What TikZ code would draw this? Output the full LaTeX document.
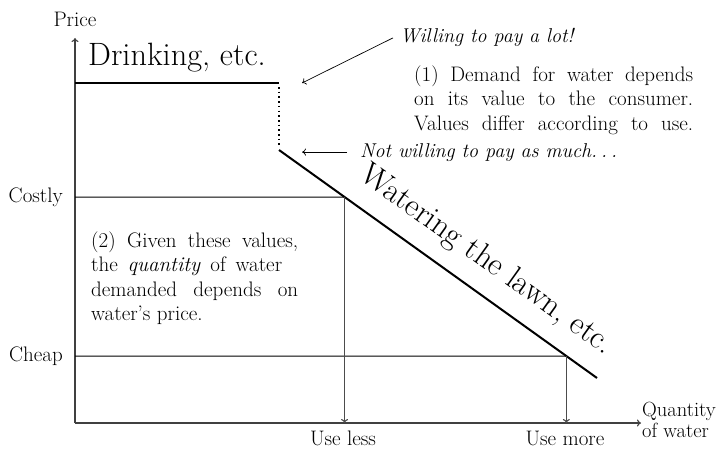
\documentclass[tikz,border=0pt]{standalone}
\usepackage{fontspec}
\usetikzlibrary{calc,arrows.meta}
\tikzset{
  tip/.style={-{To[length=4pt,width=7pt]}},
  axisline/.style={line width=1.1pt, draw=black!75, tip},
  demand/.style={line width=2pt, draw=black},
  dotline/.style={line width=1.8pt, draw=black, dash pattern=on 1.6pt off 3.1pt},
  level/.style={line width=1pt, draw=black},
  drop/.style={line width=1.1pt, draw=black!70, tip},
  pointer/.style={line width=0.7pt, draw=black, tip},
  txt/.style={inner sep=0pt, font=\fontsize{21}{24.5}\selectfont},
  itxt/.style={inner sep=0pt, font=\fontsize{20}{24.5}\selectfont\itshape},
  big/.style={inner sep=0pt, font=\fontsize{32.3}{34}\selectfont},
  para/.style={txt, align=left},
}
\begin{document}
\begin{tikzpicture}[x=1pt,y=-1pt]
\useasboundingbox (0,0) rectangle (719,452);
% axes
\coordinate (O) at (75,423);
\coordinate (ytop) at (75,38);
\coordinate (xend) at (641,423);
\draw[axisline] (O) -- (ytop);
\draw[axisline] (O) -- (xend);
% demand curve
\coordinate (d0) at (75,83);
\coordinate (d1) at (279,83);
\coordinate (d2) at (279,150);
\coordinate (d3) at (597,378);
\draw[demand] (d0) -- (d1);
\draw[dotline] ($(d1)+(0,4)$) -- ($(d2)+(0,-3)$);
\draw[demand] (d2) -- (d3);
% price levels
\coordinate (c1) at (75,197);
\coordinate (e1) at (75,356);
\coordinate (c2) at (intersection of d2--d3 and c1--{(600,197)});
\coordinate (e2) at (intersection of d2--d3 and e1--{(600,356)});
\draw[level] (c1) -- (c2);
\draw[level] (e1) -- (e2);
\draw[drop] (c2) -- (c2 |- O);
\draw[drop] (e2) -- (e2 |- O);
% labels
\node[txt, anchor=base] (price) at (75,27) {Price};
\node[txt, anchor=base east] (costly) at (63,202) {Costly};
\node[txt, anchor=base east] (cheap) at (63,361) {Cheap};
\node[txt, anchor=base] (less) at (343,445) {Use less};
\node[txt, anchor=base] (more) at (565,445) {Use more};
\node[para, anchor=north west, font=\fontsize{20.5}{20.5}\selectfont] (qw) at (642,402) {Quantity\\of water};
\node[big, anchor=base west] (drink) at (88,65) {Drinking, etc.};
\node[big, anchor=base, rotate=-35.6] (lawn) at ($(d2)!0.595!(d3)+(13.4,-18.7)$) {Watering the lawn, etc.};
% annotations
\node[itxt, anchor=base west] (will) at (400,43) {Willing to pay a lot!};
\coordinate (wtip) at (302,83);
\draw[pointer] ([xshift=-7pt]will.west) -- (wtip);
\node[itxt, anchor=base west] (notw) at (360,157) {Not willing to pay as much.\kern.2em.\kern.2em.};
\coordinate (ntip) at (302,151);
\draw[pointer] ([xshift=-13pt]notw.west) -- (ntip |- notw.west);
% paragraphs
\node[para, anchor=north west] (p1) at (414,65.5) {\makebox[279pt][s]{(1) Demand for water depends}\\\makebox[279pt][s]{on its value to the consumer.}\\\makebox[279pt][s]{Values differ according to use.}};
\node[para, anchor=north west] (p2) at (91,231.5) {\makebox[207pt][s]{(2) Given these values,}\\\makebox[191pt][s]{the \textit{quantity} of water}\\\makebox[207pt][s]{demanded depends on}\\water’s price.};
\end{tikzpicture}
\end{document}
